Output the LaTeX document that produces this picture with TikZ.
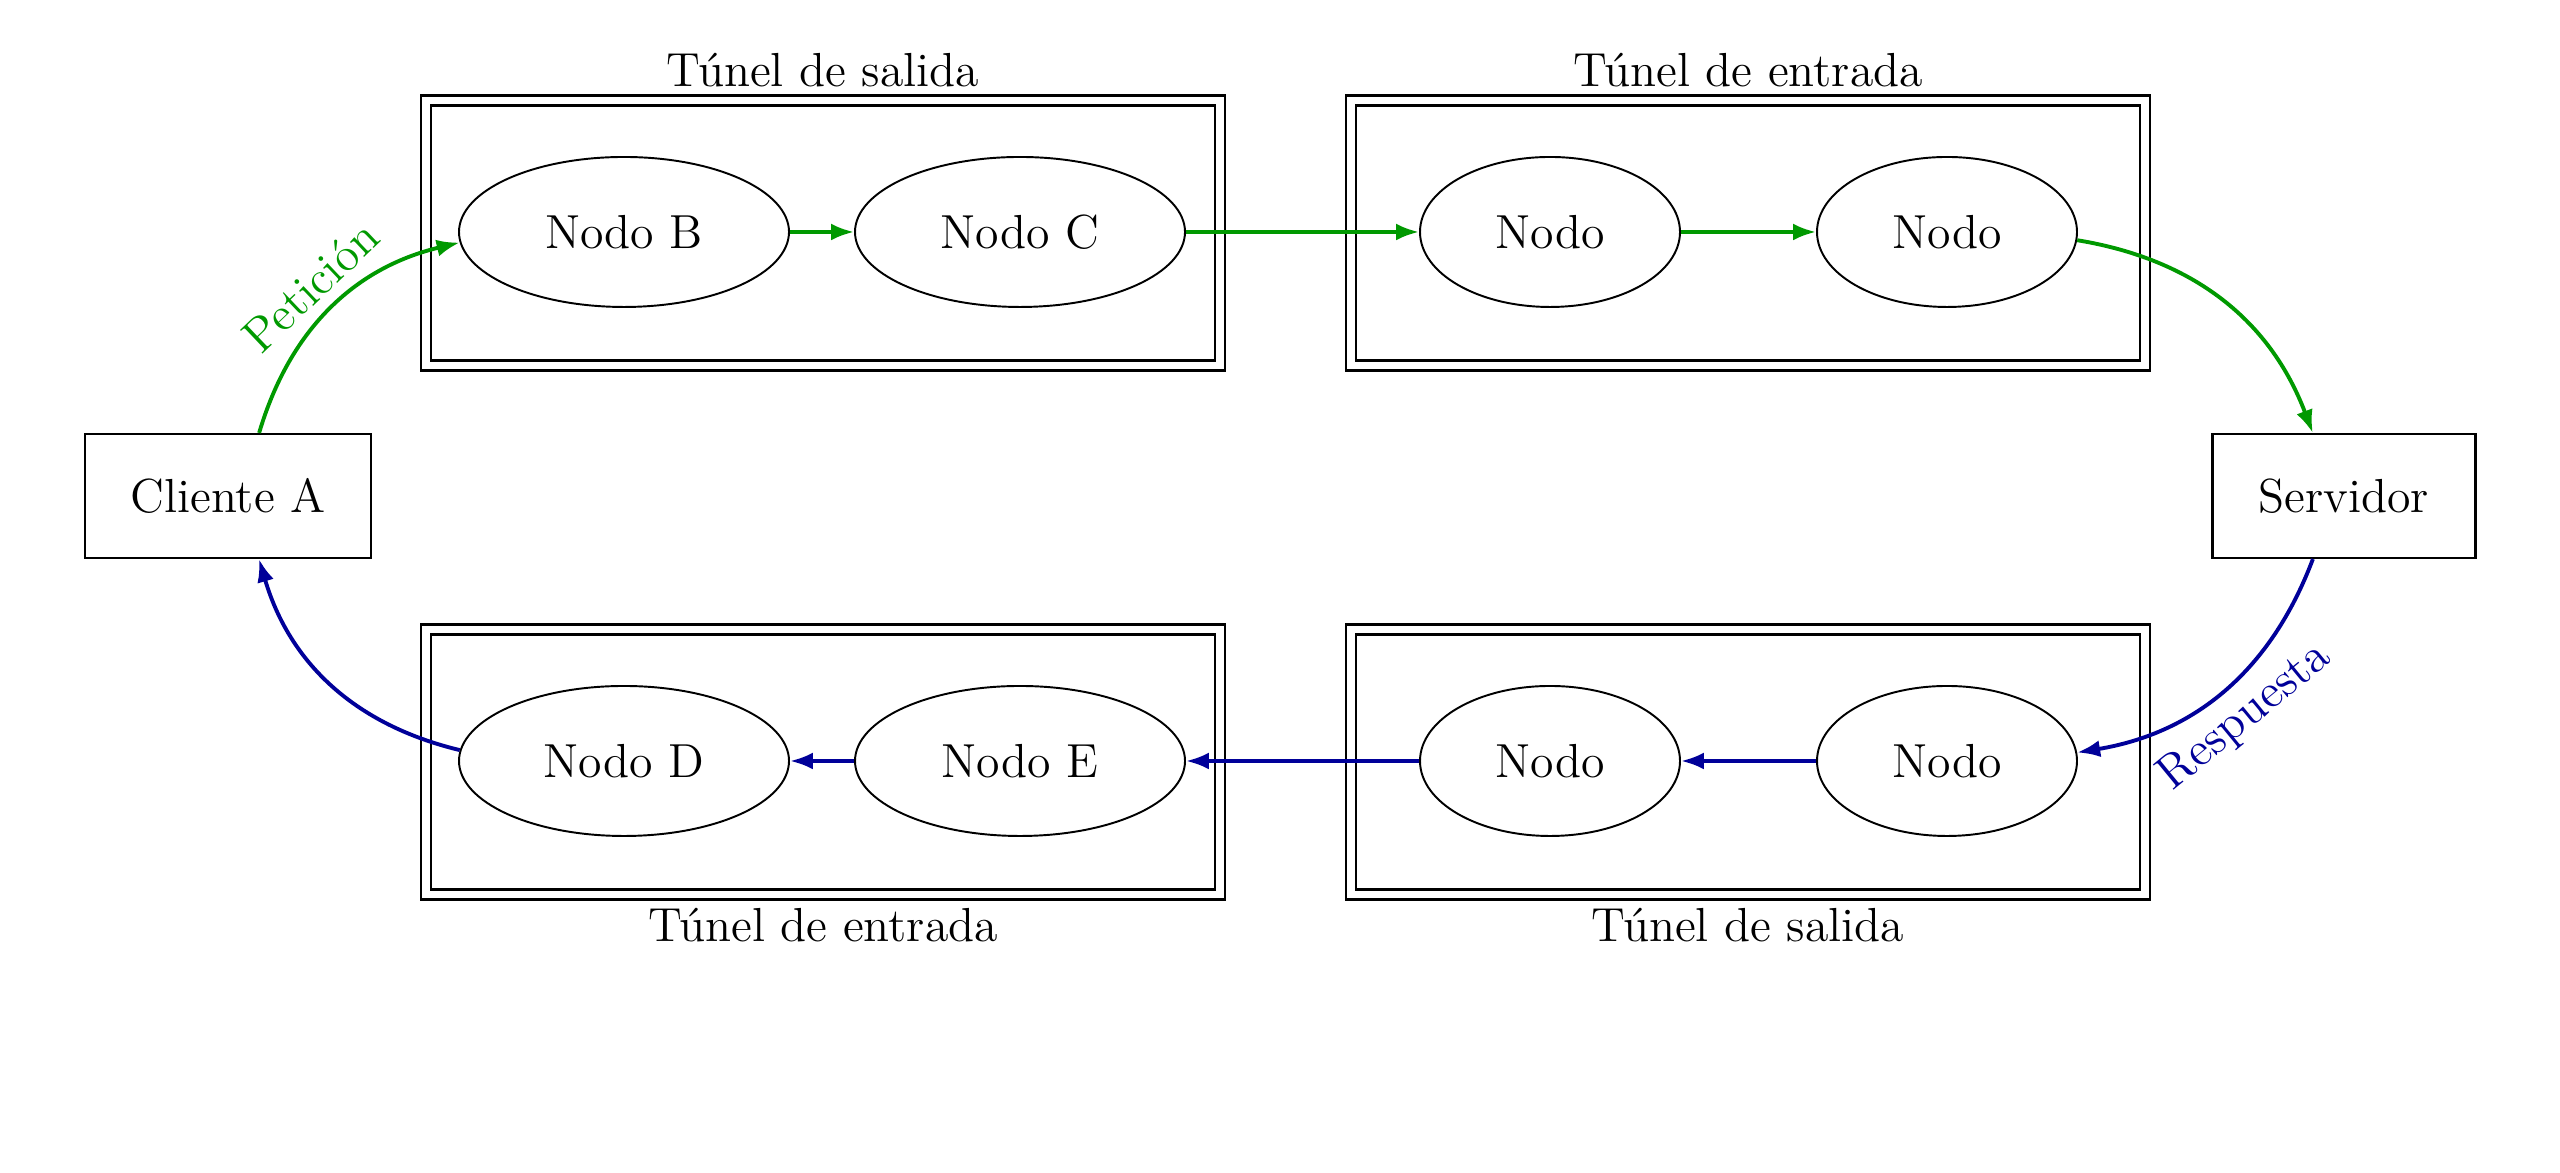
\documentclass[tikz,border=0pt]{standalone}
\usepackage{fontspec}
\usepackage{tikz}
\usetikzlibrary{arrows.meta, positioning, shapes.geometric}
\definecolor{pedidoverde}{RGB}{0, 153, 0}
\definecolor{respazul}{RGB}{0, 0, 153}

\begin{document}
\begin{tikzpicture}[
  every node/.style={font=\fontsize{13.6}{16.3}\selectfont},
  equipo/.style={
    draw, line width=0.6pt,
    minimum width=2.86cm, minimum height=1.24cm, inner sep=4pt
  },
  nodo/.style={
    draw, ellipse, line width=0.55pt,
    minimum width=3.30cm, minimum height=1.50cm, inner sep=2pt
  },
  nodochico/.style={nodo, minimum width=2.60cm},
  tunel/.style={
    draw, double, double distance=2.25pt, line width=0.6pt,
    minimum width=7.94cm, minimum height=2.65cm, inner sep=0pt
  },
  ida/.style={-{Latex[length=2.3mm, width=1.7mm]}, line width=1.1pt, color=pedidoverde},
  vuelta/.style={-{Latex[length=2.3mm, width=1.7mm]}, line width=1.1pt, color=respazul}
]
  \useasboundingbox (0, 0) rectangle (25.6, 11.73);

  % Extremos de la comunicacion
  \node[equipo] (cliente) at (2.28, 6.77) {Cliente A};
  \node[equipo, minimum width=2.63cm] (servidor) at (23.44, 6.77) {Servidor};

  % Tuneles (fila superior e inferior)
  \node[tunel, label={[label distance=0pt]above:Túnel de salida}] (salidaA) at (8.23, 9.40) {};
  \node[tunel, label={[label distance=0pt]above:Túnel de entrada}] (entradaS) at (17.48, 9.40) {};
  \node[tunel, label={[label distance=0pt]below:Túnel de entrada}] (entradaA) at (8.23, 4.11) {};
  \node[tunel, label={[label distance=0pt]below:Túnel de salida}] (salidaS) at (17.48, 4.11) {};

  % Nodos de la ida
  \node[nodo] (nodoB) at (6.24, 9.41) {Nodo B};
  \node[nodo] (nodoC) at (10.20, 9.41) {Nodo C};
  \node[nodochico] (nodoI1) at (15.50, 9.41) {Nodo};
  \node[nodochico] (nodoI2) at (19.47, 9.41) {Nodo};

  % Nodos de la vuelta
  \node[nodo] (nodoD) at (6.24, 4.12) {Nodo D};
  \node[nodo] (nodoE) at (10.20, 4.12) {Nodo E};
  \node[nodochico] (nodoV1) at (15.50, 4.12) {Nodo};
  \node[nodochico] (nodoV2) at (19.47, 4.12) {Nodo};

  % Peticion
  \draw[ida] (cliente) to[bend left] node[midway, sloped, above] {Petición} (nodoB);
  \draw[ida] (nodoB) -- (nodoC);
  \draw[ida] (nodoC) -- (nodoI1);
  \draw[ida] (nodoI1) -- (nodoI2);
  \draw[ida] (nodoI2) to[bend left] (servidor);

  % Respuesta
  \draw[vuelta] (servidor) to[bend left] node[midway, sloped, below] {Respuesta} (nodoV2);
  \draw[vuelta] (nodoV2) -- (nodoV1);
  \draw[vuelta] (nodoV1) -- (nodoE);
  \draw[vuelta] (nodoE) -- (nodoD);
  \draw[vuelta] (nodoD) to[bend left] (cliente);

\end{tikzpicture}
\end{document}
